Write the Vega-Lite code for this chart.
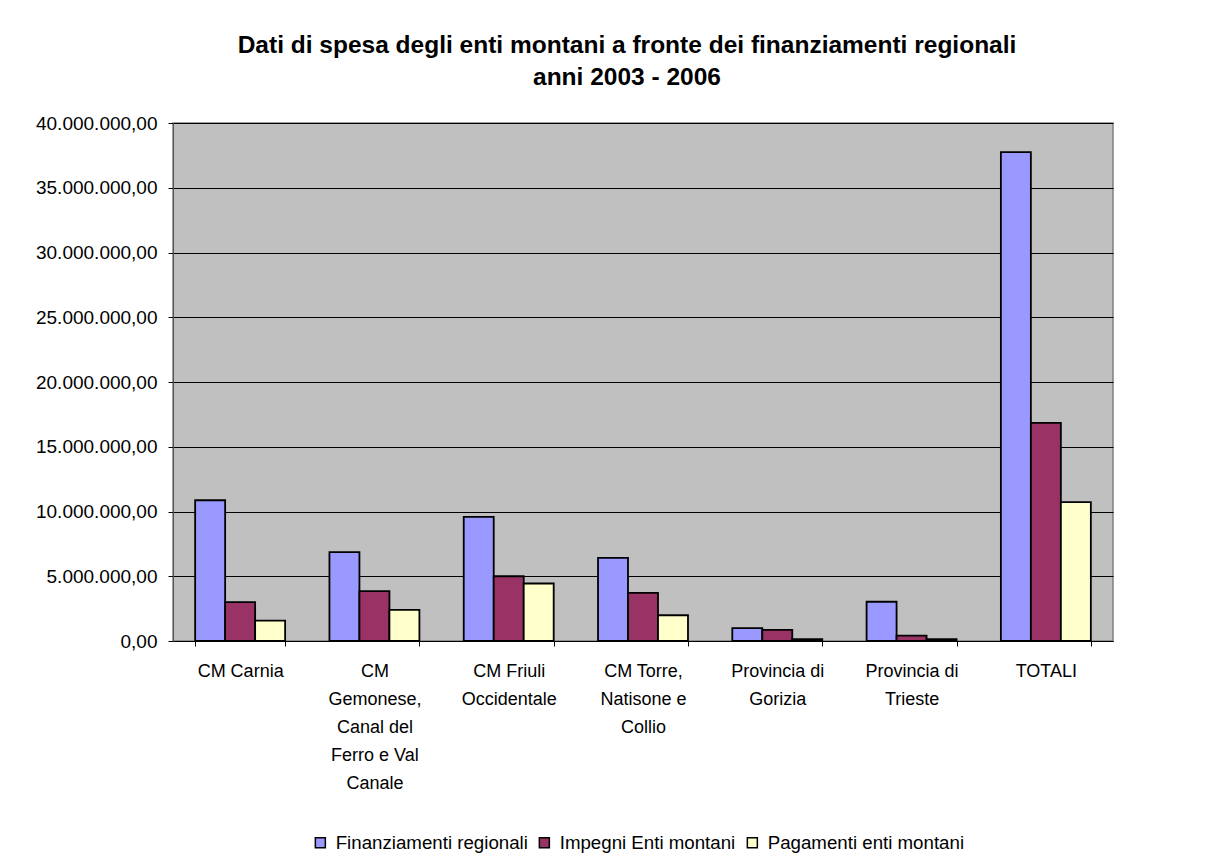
{
  "$schema": "https://vega.github.io/schema/vega-lite/v6.json",
  "autosize": "none",
  "width": 940,
  "height": 518,
  "padding": {"left": 173, "top": 123, "right": 119, "bottom": 220},
  "background": "white",
  "title": {
    "text": ["Dati di  spesa degli enti montani a fronte dei finanziamenti regionali", "anni 2003 - 2006"],
    "font": "Liberation Sans",
    "fontSize": 24.5,
    "fontWeight": "bold",
    "lineHeight": 32,
    "anchor": "middle",
    "offset": 24,
    "dx": -16,
    "color": "black"
  },
  "data": {
    "values": [
      {"ente": "CM Carnia", "serie": "Finanziamenti regionali", "valore": 10870000},
      {"ente": "CM Carnia", "serie": "Impegni Enti montani", "valore": 3000000},
      {"ente": "CM Carnia", "serie": "Pagamenti enti montani", "valore": 1580000},
      {"ente": "CM Gemonese, Canal del Ferro e Val Canale", "serie": "Finanziamenti regionali", "valore": 6860000},
      {"ente": "CM Gemonese, Canal del Ferro e Val Canale", "serie": "Impegni Enti montani", "valore": 3850000},
      {"ente": "CM Gemonese, Canal del Ferro e Val Canale", "serie": "Pagamenti enti montani", "valore": 2410000},
      {"ente": "CM Friuli Occidentale", "serie": "Finanziamenti regionali", "valore": 9590000},
      {"ente": "CM Friuli Occidentale", "serie": "Impegni Enti montani", "valore": 5000000},
      {"ente": "CM Friuli Occidentale", "serie": "Pagamenti enti montani", "valore": 4440000},
      {"ente": "CM Torre, Natisone e Collio", "serie": "Finanziamenti regionali", "valore": 6420000},
      {"ente": "CM Torre, Natisone e Collio", "serie": "Impegni Enti montani", "valore": 3720000},
      {"ente": "CM Torre, Natisone e Collio", "serie": "Pagamenti enti montani", "valore": 1990000},
      {"ente": "Provincia di Gorizia", "serie": "Finanziamenti regionali", "valore": 990000},
      {"ente": "Provincia di Gorizia", "serie": "Impegni Enti montani", "valore": 860000},
      {"ente": "Provincia di Gorizia", "serie": "Pagamenti enti montani", "valore": 150000},
      {"ente": "Provincia di Trieste", "serie": "Finanziamenti regionali", "valore": 3030000},
      {"ente": "Provincia di Trieste", "serie": "Impegni Enti montani", "valore": 420000},
      {"ente": "Provincia di Trieste", "serie": "Pagamenti enti montani", "valore": 150000},
      {"ente": "TOTALI", "serie": "Finanziamenti regionali", "valore": 37750000},
      {"ente": "TOTALI", "serie": "Impegni Enti montani", "valore": 16850000},
      {"ente": "TOTALI", "serie": "Pagamenti enti montani", "valore": 10720000}
    ]
  },
  "mark": {"type": "bar", "stroke": "black", "strokeWidth": 1.8},
  "encoding": {
    "x": {
      "field": "ente",
      "type": "nominal",
      "sort": null,
      "scale": {"paddingInner": 0.33, "paddingOuter": 0.165},
      "axis": {
        "title": null,
        "labelAngle": 0,
        "tickBand": "extent",
        "tickSize": 5,
        "tickColor": "black",
        "domainColor": "black",
        "labelFont": "Liberation Sans",
        "labelFontSize": 18,
        "labelColor": "black",
        "labelLineHeight": 28,
        "labelPadding": 16,
        "labelBaseline": "top",
        "labelLimit": 0,
        "labelExpr": "datum.value == 'CM Gemonese, Canal del Ferro e Val Canale' ? ['CM','Gemonese,','Canal del','Ferro e Val','Canale'] : datum.value == 'CM Friuli Occidentale' ? ['CM Friuli','Occidentale'] : datum.value == 'CM Torre, Natisone e Collio' ? ['CM Torre,','Natisone e','Collio'] : datum.value == 'Provincia di Gorizia' ? ['Provincia di','Gorizia'] : datum.value == 'Provincia di Trieste' ? ['Provincia di','Trieste'] : datum.value"
      }
    },
    "xOffset": {
      "field": "serie",
      "type": "nominal",
      "sort": ["Finanziamenti regionali", "Impegni Enti montani", "Pagamenti enti montani"]
    },
    "y": {
      "field": "valore",
      "type": "quantitative",
      "scale": {"domain": [0, 40000000], "nice": false},
      "axis": {
        "title": null,
        "values": [0, 5000000, 10000000, 15000000, 20000000, 25000000, 30000000, 35000000, 40000000],
        "grid": true,
        "gridColor": "black",
        "gridWidth": 1,
        "gridOpacity": 1,
        "tickSize": 5,
        "tickColor": "black",
        "domainColor": "#555555",
        "labelFont": "Liberation Sans",
        "labelFontSize": 19,
        "labelColor": "black",
        "labelPadding": 11,
        "labelLimit": 0,
        "labelExpr": "replace(replace(replace(format(datum.value, ',.2f'), regexp(',', 'g'), '_'), '.', ','), regexp('_', 'g'), '.')"
      }
    },
    "color": {
      "field": "serie",
      "type": "nominal",
      "sort": ["Finanziamenti regionali", "Impegni Enti montani", "Pagamenti enti montani"],
      "scale": {
        "domain": ["Finanziamenti regionali", "Impegni Enti montani", "Pagamenti enti montani"],
        "range": ["#9999FF", "#993366", "#FFFFCC"]
      },
      "legend": {
        "title": null,
        "orient": "none",
        "legendX": 138,
        "legendY": 710,
        "direction": "horizontal",
        "symbolType": "square",
        "symbolSize": 100,
        "symbolStrokeColor": "black",
        "symbolStrokeWidth": 1.5,
        "symbolOpacity": 1,
        "labelFont": "Liberation Sans",
        "labelFontSize": 18.7,
        "labelColor": "black",
        "labelOffset": 6,
        "labelLimit": 0,
        "columnPadding": 7,
        "padding": 0
      }
    }
  },
  "config": {
    "font": "Liberation Sans",
    "view": {"fill": "#C0C0C0", "stroke": "#808080", "strokeWidth": 1.5}
  }
}
